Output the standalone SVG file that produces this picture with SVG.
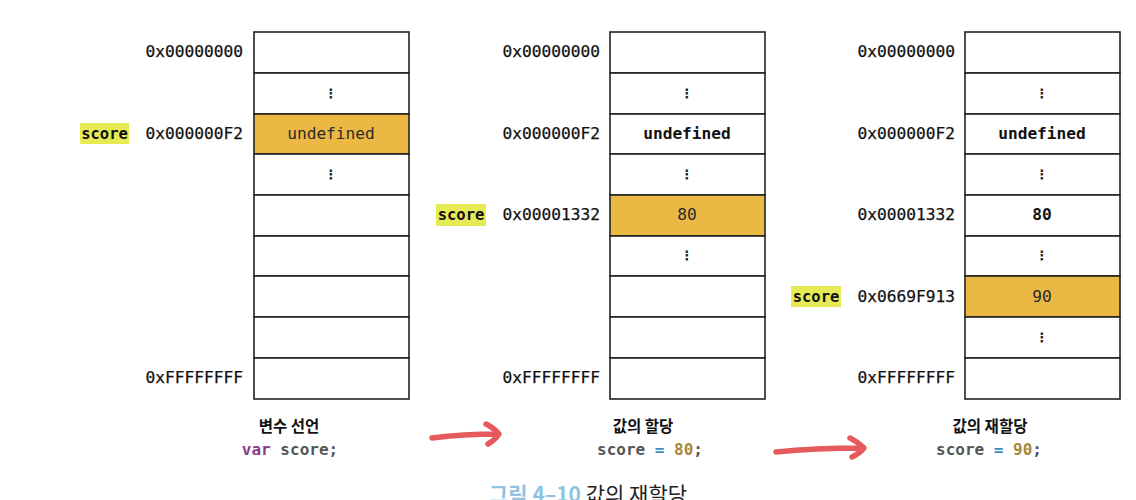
<svg xmlns="http://www.w3.org/2000/svg" width="1136" height="500" viewBox="0 0 1136 500">
<style>
.cell{fill:#fff;stroke:#222;stroke-width:1.6}
.hl{fill:#ebb943;stroke:#222;stroke-width:1.6}
.addr{font-family:"DejaVu Sans Mono","Liberation Mono",monospace;font-size:16.2px;fill:#111;text-anchor:end;stroke:#111;stroke-width:0.25}
.val{font-family:"DejaVu Sans Mono","Liberation Mono",monospace;font-size:16.2px;fill:#2a2a2a;text-anchor:middle}
.valb{font-family:"DejaVu Sans Mono","Liberation Mono",monospace;font-size:16.2px;font-weight:bold;fill:#111;text-anchor:middle}
.dots{font-family:"DejaVu Sans",sans-serif;font-size:13px;font-weight:bold;fill:#222;text-anchor:middle}
.tag{fill:#e6ea55}
.tagt{font-family:"DejaVu Sans Mono","Liberation Mono",monospace;font-size:15.5px;font-weight:bold;fill:#111;text-anchor:middle}
.title{font-family:"Noto Sans CJK KR",sans-serif;font-size:15.5px;font-weight:bold;fill:#111;text-anchor:middle}
.code{font-family:"DejaVu Sans Mono","Liberation Mono",monospace;font-size:16px;font-weight:bold;fill:#555;text-anchor:middle}
.arrow{fill:none;stroke:#e65a5e;stroke-width:5.5;stroke-linecap:round;stroke-linejoin:round}
</style>
<rect width="1136" height="500" fill="#fff"/>

<g id="memory-declaration">
  <rect class="cell" x="254" y="32" width="155" height="41"/>
  <rect class="cell" x="254" y="73" width="155" height="41"/>
  <rect class="hl" x="254" y="114" width="155" height="40"/>
  <rect class="cell" x="254" y="154" width="155" height="41"/>
  <rect class="cell" x="254" y="195" width="155" height="41"/>
  <rect class="cell" x="254" y="236" width="155" height="40"/>
  <rect class="cell" x="254" y="276" width="155" height="41"/>
  <rect class="cell" x="254" y="317" width="155" height="41"/>
  <rect class="cell" x="254" y="358" width="155" height="41"/>
  <text class="dots" x="331" y="98">⋮</text>
  <text class="val" x="331" y="139">undefined</text>
  <text class="dots" x="331" y="179">⋮</text>
  <text class="addr" x="243" y="57">0x00000000</text>
  <text class="addr" x="243" y="139">0x000000F2</text>
  <text class="addr" x="243" y="383">0xFFFFFFFF</text>
  <rect class="tag" x="80" y="123" width="49" height="21"/>
  <text class="tagt" x="104.5" y="139">score</text>
  <text class="title" x="289" y="432">변수 선언</text>
  <text class="code" x="290" y="455"><tspan fill="#8a3d8c">var</tspan> score;</text>
</g>

<g id="memory-assignment">
  <rect class="cell" x="610" y="32" width="155" height="41"/>
  <rect class="cell" x="610" y="73" width="155" height="41"/>
  <rect class="cell" x="610" y="114" width="155" height="40"/>
  <rect class="cell" x="610" y="154" width="155" height="41"/>
  <rect class="hl" x="610" y="195" width="155" height="41"/>
  <rect class="cell" x="610" y="236" width="155" height="40"/>
  <rect class="cell" x="610" y="276" width="155" height="41"/>
  <rect class="cell" x="610" y="317" width="155" height="41"/>
  <rect class="cell" x="610" y="358" width="155" height="41"/>
  <text class="dots" x="687" y="98">⋮</text>
  <text class="valb" x="687" y="139">undefined</text>
  <text class="dots" x="687" y="179">⋮</text>
  <text class="val" x="687" y="220">80</text>
  <text class="dots" x="687" y="260">⋮</text>
  <text class="addr" x="600" y="57">0x00000000</text>
  <text class="addr" x="600" y="139">0x000000F2</text>
  <text class="addr" x="600" y="220">0x00001332</text>
  <text class="addr" x="600" y="383">0xFFFFFFFF</text>
  <rect class="tag" x="436" y="204" width="50" height="22"/>
  <text class="tagt" x="461" y="220">score</text>
  <text class="title" x="643" y="432">값의 할당</text>
  <text class="code" x="650" y="455">score <tspan fill="#3b8ec4">=</tspan> <tspan fill="#a8893a">80</tspan>;</text>
</g>

<g id="memory-reassignment">
  <rect class="cell" x="965" y="32" width="155" height="41"/>
  <rect class="cell" x="965" y="73" width="155" height="41"/>
  <rect class="cell" x="965" y="114" width="155" height="40"/>
  <rect class="cell" x="965" y="154" width="155" height="41"/>
  <rect class="cell" x="965" y="195" width="155" height="41"/>
  <rect class="cell" x="965" y="236" width="155" height="40"/>
  <rect class="hl" x="965" y="276" width="155" height="41"/>
  <rect class="cell" x="965" y="317" width="155" height="41"/>
  <rect class="cell" x="965" y="358" width="155" height="41"/>
  <text class="dots" x="1042" y="98">⋮</text>
  <text class="valb" x="1042" y="139">undefined</text>
  <text class="dots" x="1042" y="179">⋮</text>
  <text class="valb" x="1042" y="220">80</text>
  <text class="dots" x="1042" y="260">⋮</text>
  <text class="val" x="1042" y="302">90</text>
  <text class="dots" x="1042" y="342">⋮</text>
  <text class="addr" x="955" y="57">0x00000000</text>
  <text class="addr" x="955" y="139">0x000000F2</text>
  <text class="addr" x="955" y="220">0x00001332</text>
  <text class="addr" x="955" y="302">0x0669F913</text>
  <text class="addr" x="955" y="383">0xFFFFFFFF</text>
  <rect class="tag" x="791" y="286" width="50" height="21"/>
  <text class="tagt" x="816" y="302">score</text>
  <text class="title" x="990" y="432">값의 재할당</text>
  <text class="code" x="989" y="455">score <tspan fill="#3b8ec4">=</tspan> <tspan fill="#a8893a">90</tspan>;</text>
</g>

<g id="connectors">
  <path class="arrow" d="M432,438 C455,435 478,434 498,434 M486,424 Q494,428 499,434 Q495,440 488,444"/>
  <path class="arrow" d="M776,452 C805,449 835,448 862,448 M850,438 Q858,442 864,448 Q859,454 852,457"/>
</g>

<text x="489" y="502" font-family="Noto Sans CJK KR, sans-serif" font-size="21px"><tspan fill="#8fc3e0" font-weight="bold">그림 4–10</tspan><tspan fill="#222"> 값의 재할당</tspan></text>
</svg>
